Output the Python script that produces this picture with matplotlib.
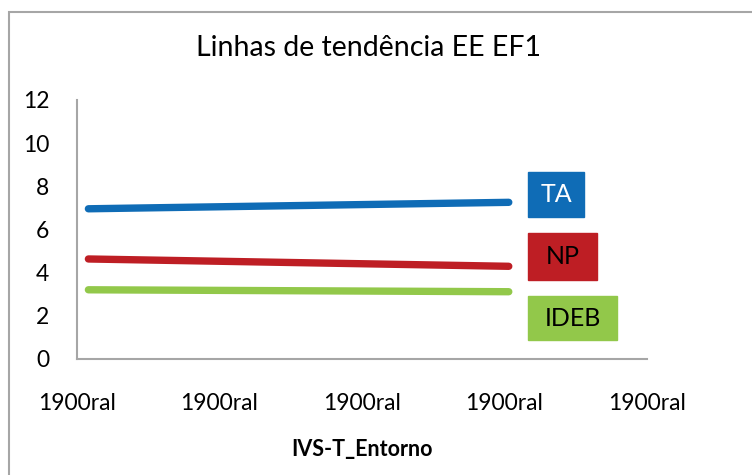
import matplotlib
matplotlib.use("Agg")
import matplotlib.pyplot as plt
from matplotlib.patches import Rectangle

# Data
x_labels = ["1900ral"] * 5
x_start, x_end = 0.08, 3.03
series_names = ["TA", "NP", "IDEB"]
series_start = [6.95, 4.62, 3.19]
series_end = [7.25, 4.28, 3.10]
colors = ["#0F6CB6", "#BE1E24", "#92C84A"]
text_colors = ["white", "black", "black"]

plt.rcParams["font.family"] = ["Lato", "DejaVu Sans"]

W, H = 752, 475
fig = plt.figure(figsize=(W / 100, H / 100), dpi=100)

# outer chart border (only top and left visible in the crop)
fig.patches.append(Rectangle((9 / W, -0.1), 1.2, 1.1 - 12 / H,
                             transform=fig.transFigure, fill=False,
                             edgecolor="#A6A6A6", linewidth=1.5))

ax = fig.add_axes([77 / W, (H - 358.5) / H, (647 - 77) / W, (358.5 - 100) / H])

for s0, s1, c in zip(series_start, series_end, colors):
    ax.plot([x_start, x_end], [s0, s1], color=c, linewidth=5.3,
            solid_capstyle="round")

ax.set_xlim(0, 4)
ax.set_ylim(0, 12)
ax.set_yticks(range(0, 13, 2))
ax.set_xticks(range(len(x_labels)))
ax.set_xticklabels(x_labels)
ax.tick_params(axis="both", length=0, labelsize=16.5)
ax.tick_params(axis="y", pad=20)
ax.tick_params(axis="x", pad=25)

for side in ["top", "right"]:
    ax.spines[side].set_visible(False)
for side in ["left", "bottom"]:
    ax.spines[side].set_color("#A6A6A6")
    ax.spines[side].set_linewidth(1.5)

ax.set_xlabel("IVS-T_Entorno", fontsize=15.5, fontweight="bold", labelpad=18)

fig.text(369 / W, 1 - 48 / H, "Linhas de tendência EE EF1", fontsize=20.5,
         ha="center", va="center")

# colored label boxes (x0, y0, x1, y1 in pixels)
boxes = [(528, 172, 584, 217), (528, 233, 597, 280), (528, 296, 617, 340)]
for name, (x0, y0, x1, y1), c, tc in zip(series_names, boxes, colors, text_colors):
    fig.patches.append(Rectangle((x0 / W, 1 - y1 / H), (x1 - x0) / W, (y1 - y0) / H,
                                 transform=fig.transFigure, color=c))
    fig.text((x0 + x1) / 2 / W, 1 - (y0 + y1) / 2 / H, name, color=tc,
             fontsize=18, ha="center", va="center")

fig.savefig("out.png", dpi=100)
